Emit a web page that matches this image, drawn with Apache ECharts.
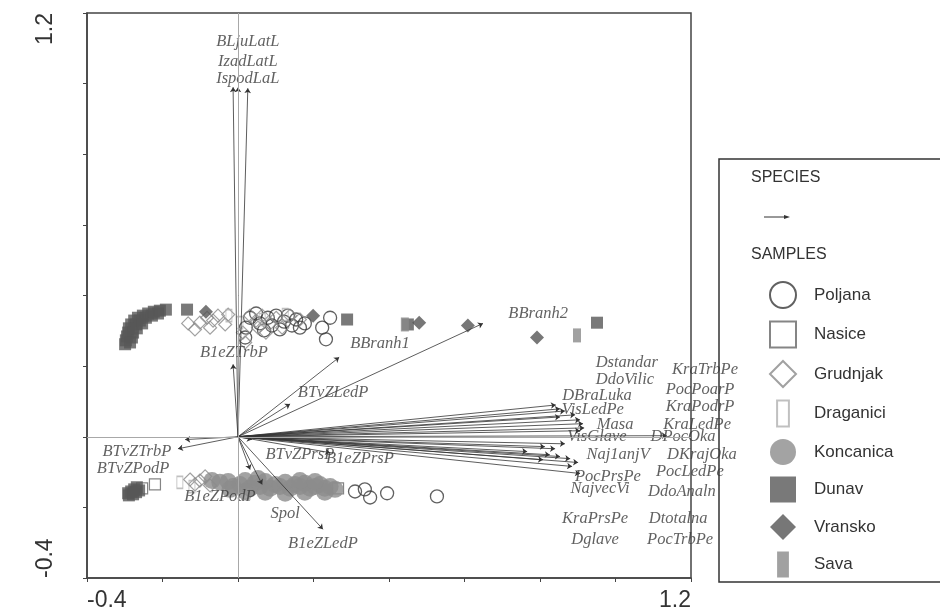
<!DOCTYPE html>
<html>
<head>
<meta charset="utf-8">
<script src="https://cdn.jsdelivr.net/npm/echarts@6/dist/echarts.min.js"></script>
<style>html,body{margin:0;padding:0;background:#fff;}#c{width:940px;height:612px;}</style>
</head>
<body>
<div id="c"></div>
<script>
// ---------- data ----------
const xTickLabels = ['-0.4', '1.2'];
const yTickLabels = ['-0.4', '1.2'];

const sampleGroups = ['Poljana','Nasice','Grudnjak','Draganici','Koncanica','Dunav','Vransko','Sava'];

const poljana = [[0.021,0.309],[0.032,0.337],[0.048,0.349],[0.058,0.321],[0.069,0.301],[0.079,0.337],[0.090,0.315],[0.101,0.343],[0.111,0.304],[0.122,0.326],[0.132,0.343],[0.143,0.315],[0.154,0.332],[0.164,0.309],[0.177,0.321],[0.223,0.309],[0.244,0.337],[0.233,0.276],[0.019,0.281],
  [0.310,-0.155],[0.336,-0.149],[0.350,-0.172],[0.395,-0.160],[0.527,-0.169]];
const nasice = [[-0.254,-0.146],[-0.220,-0.135],[0.265,-0.146]];
const grudnjak = [[-0.114,0.304],[-0.101,0.323],[-0.082,0.337],[-0.066,0.329],[-0.053,0.343],[-0.034,0.318],[-0.026,0.346],[-0.074,0.309],[0.013,0.295],[0.032,0.343],[0.048,0.329],[0.064,0.343],[0.053,0.309],[0.085,0.321],[0.101,0.337],[0.074,0.295],[0.117,0.309],[0.138,0.343],[0.164,0.332],[0.019,0.267],[-0.132,0.321],
  [-0.127,-0.121],[-0.114,-0.135],[-0.101,-0.124],[-0.087,-0.112],[-0.074,-0.138]];
const draganici = [[-0.024,0.343],[0.005,0.323],[0.064,0.332],[0.125,0.346],[-0.154,-0.129],[-0.122,-0.141],[0.024,-0.160]];
const koncanica = [[-0.069,-0.124],[-0.048,-0.129],[-0.026,-0.127],[-0.013,-0.141],[0.005,-0.135],[0.019,-0.124],[0.032,-0.146],[0.045,-0.132],[0.058,-0.141],[0.072,-0.127],[0.085,-0.146],[0.098,-0.135],[0.111,-0.141],[0.125,-0.129],[0.138,-0.146],[0.151,-0.135],[0.164,-0.141],[0.177,-0.132],[0.191,-0.146],[0.204,-0.141],[0.217,-0.135],[0.230,-0.146],[0.244,-0.141],[0.257,-0.149],[0.019,-0.155],[0.072,-0.157],[0.125,-0.160],[0.177,-0.157],[0.230,-0.157],[-0.021,-0.149],[0.164,-0.124],[0.204,-0.127],[0.053,-0.118]];
const dunav = [[-0.191,0.360],[-0.207,0.357],[-0.223,0.354],[-0.238,0.349],[-0.252,0.343],[-0.265,0.337],[-0.275,0.329],[-0.283,0.318],[-0.289,0.307],[-0.291,0.295],[-0.294,0.284],[-0.297,0.273],[-0.299,0.262],[-0.270,0.318],[-0.260,0.329],[-0.244,0.337],[-0.228,0.343],[-0.278,0.295],[-0.281,0.281],[-0.286,0.267],[-0.212,0.349],[-0.268,0.307],[-0.254,0.321],
  [-0.135,0.360],[0.289,0.332],[0.450,0.318],[0.951,0.323],
  [-0.291,-0.160],[-0.283,-0.155],[-0.275,-0.149],[-0.268,-0.143],[-0.289,-0.166],[-0.278,-0.163],[-0.270,-0.157],[-0.262,-0.152]];
const vransko = [[-0.085,0.354],[0.199,0.343],[0.480,0.323],[0.609,0.315],[0.792,0.281]];
const sava = [[0.898,0.287],[0.442,0.318]];

const varNames = ['BLjuLatL','IzadLatL','IspodLaL','B1eZTrbP','BBranh1','BBranh2','BTvZLedP','BTvZTrbP','BTvZPodP','BTvZPrsP','B1eZPrsP','B1eZPodP','Spol','B1eZLedP',
  'DBraLuka','Dstandar','DdoVilic','VisLedPe','KraTrbPe','PocPoarP','KraPodrP','KraLedPe','Masa','DPocOka','VisGlave','DKrajOka','Naj1anjV','PocLedPe','NajvecVi','PocPrsPe','DdoAnaln','Dtotalna','KraPrsPe','Dglave','PocTrbPe'];
const arrowX = [0.000,-0.013,0.026,-0.013,0.268,0.649,0.138,-0.140,-0.159,0.037,0.244,0.032,0.064,0.225,
  0.842,0.853,0.866,0.853,0.893,0.906,0.914,0.917,0.906,1.136,0.866,0.840,0.901,0.766,0.808,0.906,0.853,0.880,0.826,0.813,0.885];
const arrowY = [0.990,0.990,0.987,0.205,0.225,0.321,0.093,-0.008,-0.034,-0.008,-0.045,-0.093,-0.135,-0.262,
  0.090,0.079,0.073,0.056,0.062,0.048,0.037,0.025,0.017,0.003,-0.020,-0.034,-0.073,-0.042,-0.065,-0.104,-0.056,-0.062,-0.051,-0.028,-0.084];
const labelX = [0.026,0.026,0.026,-0.011,0.376,0.795,0.252,-0.268,-0.278,0.164,0.323,-0.048,0.125,0.225,
  0.951,1.030,1.025,0.940,1.237,1.224,1.224,1.216,0.999,1.179,0.951,1.229,1.007,1.197,0.959,0.980,1.176,1.166,0.946,0.946,1.171];
const labelY = [1.119,1.063,1.015,0.239,0.264,0.349,0.124,-0.042,-0.090,-0.051,-0.062,-0.169,-0.217,-0.304,
  0.115,0.211,0.163,0.076,0.191,0.132,0.084,0.034,0.034,0.000,0.000,-0.051,-0.051,-0.098,-0.146,-0.112,-0.155,-0.231,-0.231,-0.290,-0.290];

// ---------- chart ----------
const chart = echarts.init(document.getElementById('c'), null, {renderer: 'canvas'});
const axisColor = '#444';
const pick = (v, list) => { const s = (Math.round(v * 10) / 10).toFixed(1); return list.indexOf(s) >= 0 ? s : ''; };

const sampleStyles = {
  Poljana:   {symbol: 'circle',  symbolSize: 13, itemStyle: {color: 'rgba(255,255,255,0)', borderColor: '#3a3a3a', borderWidth: 1.3}},
  Nasice:    {symbol: 'rect',    symbolSize: 11, itemStyle: {color: 'rgba(255,255,255,0)', borderColor: '#666', borderWidth: 1.2}},
  Grudnjak:  {symbol: 'diamond', symbolSize: 13, itemStyle: {color: 'rgba(255,255,255,0)', borderColor: '#8a8a8a', borderWidth: 1.2}},
  Draganici: {symbol: 'rect',    symbolSize: [6, 12], itemStyle: {color: 'rgba(255,255,255,0)', borderColor: '#b0b0b0', borderWidth: 1.2}},
  Koncanica: {symbol: 'circle',  symbolSize: 17, itemStyle: {color: '#8c8c8c'}},
  Dunav:     {symbol: 'rect',    symbolSize: 12, itemStyle: {color: '#585858'}},
  Vransko:   {symbol: 'diamond', symbolSize: 14, itemStyle: {color: '#555'}},
  Sava:      {symbol: 'rect',    symbolSize: [8, 14], itemStyle: {color: '#8a8a8a'}}
};
const sampleData = {Poljana: poljana, Nasice: nasice, Grudnjak: grudnjak, Draganici: draganici, Koncanica: koncanica, Dunav: dunav, Vransko: vransko, Sava: sava};

const series = [];
series.push({
  name: 'zero', type: 'scatter', data: [[0, 0]], symbolSize: 0, silent: true, z: 1,
  markLine: {silent: true, symbol: 'none', label: {show: false},
    lineStyle: {color: '#a8a8a8', width: 1, type: 'solid'},
    data: [{xAxis: 0}, {yAxis: 0}]}
});
sampleGroups.forEach(g => {
  series.push(Object.assign({name: g, type: 'scatter', data: sampleData[g], z: 2, silent: true}, sampleStyles[g]));
});
series.push({
  name: 'species', type: 'lines', coordinateSystem: 'cartesian2d', z: 3, silent: true,
  symbol: ['none', 'arrow'], symbolSize: 5,
  lineStyle: {color: '#333', width: 0.8, opacity: 1},
  data: varNames.map((n, i) => ({coords: [[0, 0], [arrowX[i], arrowY[i]]]}))
});
series.push({
  name: 'speciesLabels', type: 'scatter', z: 4, clip: false, silent: true,
  symbol: 'circle', symbolSize: 0.1, itemStyle: {color: 'rgba(0,0,0,0)'},
  label: {show: true, position: 'inside', formatter: '{b}', color: '#3a3a3a',
    fontFamily: 'Liberation Serif', fontStyle: 'italic', fontSize: 16.5},
  data: varNames.map((n, i) => ({name: n, value: [labelX[i], labelY[i]]}))
});

const legendIcons = {Draganici: 'path://M0,0H10V22H0Z', Sava: 'path://M0,0H10V22H0Z'};

chart.setOption({
  animation: false,
  backgroundColor: '#fff',
  grid: {left: 87, top: 13, width: 604, height: 569, show: true, borderColor: axisColor, borderWidth: 1.5, backgroundColor: 'transparent'},
  xAxis: {
    type: 'value', min: -0.4, max: 1.2, interval: 0.2,
    axisLine: {show: true, onZero: false, lineStyle: {color: axisColor, width: 1.5}},
    axisTick: {show: true, length: 4, lineStyle: {color: axisColor}},
    splitLine: {show: false},
    axisLabel: {show: true, margin: 11, fontSize: 23, color: '#333', fontFamily: 'Liberation Sans',
      formatter: v => pick(v, xTickLabels), alignMinLabel: 'left', alignMaxLabel: 'right', showMinLabel: true, showMaxLabel: true}
  },
  yAxis: {
    type: 'value', min: -0.4, max: 1.2, interval: 0.2,
    axisLine: {show: true, onZero: false, lineStyle: {color: axisColor, width: 1.5}},
    axisTick: {show: true, length: 4, lineStyle: {color: axisColor}},
    splitLine: {show: false},
    axisLabel: {show: true, rotate: 90, margin: 30, fontSize: 23, color: '#333', fontFamily: 'Liberation Sans',
      formatter: v => pick(v, yTickLabels), alignMinLabel: 'left', alignMaxLabel: 'right', showMinLabel: true, showMaxLabel: true}
  },
  legend: {
    orient: 'vertical', left: 764, top: 276, itemWidth: 26, itemHeight: 26, itemGap: 11.5,
    selectedMode: false, symbolKeepAspect: true,
    textStyle: {fontSize: 17, color: '#333', fontFamily: 'Liberation Sans', padding: [0, 0, 0, 13]},
    data: sampleGroups.map(g => legendIcons[g] ? {name: g, icon: legendIcons[g]} : {name: g})
  },
  graphic: [
    {type: 'rect', z: 0, shape: {x: 719, y: 159, width: 240, height: 423}, style: {fill: '#fff', stroke: '#333', lineWidth: 1.5}},
    {type: 'text', z: 5, x: 751, y: 178, style: {text: 'SPECIES', fontSize: 16, fontFamily: 'Liberation Sans', fill: '#333', verticalAlign: 'middle'}},
    {type: 'line', z: 5, shape: {x1: 764, y1: 217, x2: 786, y2: 217}, style: {stroke: '#333', lineWidth: 1}},
    {type: 'polygon', z: 5, shape: {points: [[790, 217], [784, 215], [784, 219]]}, style: {fill: '#333'}},
    {type: 'text', z: 5, x: 751, y: 255, style: {text: 'SAMPLES', fontSize: 16, fontFamily: 'Liberation Sans', fill: '#333', verticalAlign: 'middle'}}
  ],
  series: series
});
</script>
</body>
</html>
